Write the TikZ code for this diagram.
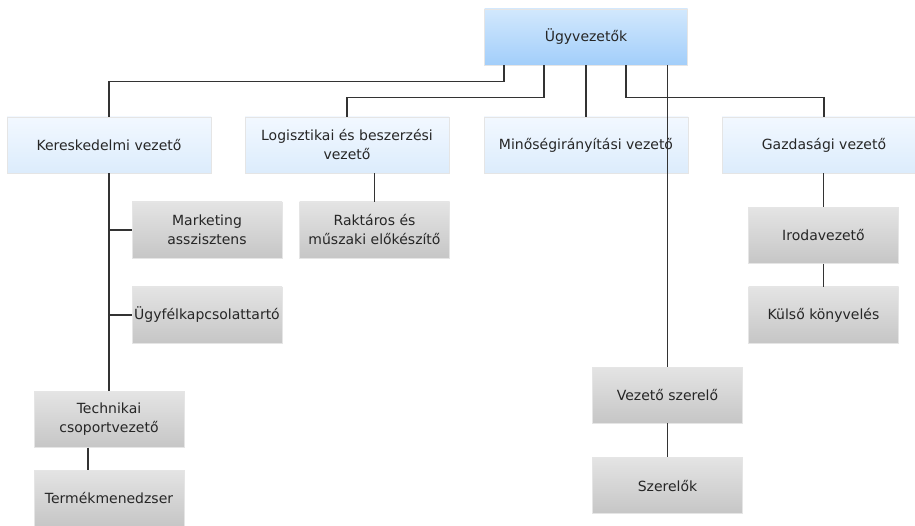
\documentclass[tikz,border=0pt]{standalone}
\usepackage{fontspec}
\setmainfont{DejaVu Sans}
\usetikzlibrary{calc}
\definecolor{toplight}{HTML}{D2E8FD}
\definecolor{topdark}{HTML}{A2CEFA}
\definecolor{midlight}{HTML}{F2F8FF}
\definecolor{middark}{HTML}{DCECFC}
\definecolor{graylight}{HTML}{E4E4E4}
\definecolor{graydark}{HTML}{C6C6C6}
\begin{document}
\begin{tikzpicture}[x=1pt,y=-1pt,
  box/.style={minimum width=150pt,minimum height=56pt,inner sep=0pt,align=center,
    draw=black!10,text=black!85,font=\fontsize{14}{19}\selectfont},
  chief/.style={box,minimum width=203pt,top color=toplight,middle color=topdark,bottom color=topdark},
  head/.style={box,minimum width=204pt,top color=midlight,middle color=middark,bottom color=middark},
  staff/.style={box,top color=graylight,middle color=graydark,bottom color=graydark},
  conn/.style={draw=black!80,line width=1.3pt}]
 	\useasboundingbox (0,0) rectangle (915,526);
 	\clip (0,0) rectangle (915,526);
 	\node[chief] (ugy) at (586,37) {Ügyvezetők};
 	\node[head] (ker) at (109,145) {Kereskedelmi vezető};
 	\node[head] (log) at (347,145) {Logisztikai és beszerzési\\vezető};
 	\node[head] (min) at (586,145) {Minőségirányítási vezető};
 	\node[head] (gaz) at (824,145) {Gazdasági vezető};
 	\node[staff] (mark) at (207,230) {Marketing\\asszisztens};
 	\node[staff] (ugyf) at (207,315) {Ügyfélkapcsolattartó};
 	\node[staff] (rakt) at (374.5,230) {Raktáros és\\műszaki előkészítő};
 	\node[staff] (tech) at (109,419.5) {Technikai\\csoportvezető};
 	\node[staff] (term) at (109,498) {Termékmenedzser};
 	\node[staff] (iroda) at (823.5,235.5) {Irodavezető};
 	\node[staff] (kulso) at (823.5,315) {Külső könyvelés};
 	\node[staff] (vsz) at (667.5,395) {Vezető szerelő};
 	\node[staff] (szer) at (667.5,485.5) {Szerelők};
 	\draw[conn] ([xshift=-82pt]ugy.south) -- ++(0,16) -| (ker.north);
 	\draw[conn] ([xshift=-42pt]ugy.south) -- ++(0,32) -| (log.north);
 	\draw[conn] (ugy.south) -- (min.north);
 	\draw[conn] ([xshift=40pt]ugy.south) -- ++(0,32) -| (gaz.north);
 	\draw[conn] (ugy.south -| vsz.north) -- (vsz.north);
 	\draw[conn] (ker.south) -- (tech.north);
 	\draw[conn] (ker.south |- mark.west) -- (mark.west);
 	\draw[conn] (ker.south |- ugyf.west) -- (ugyf.west);
 	\draw[conn] (log.south -| rakt.north) -- (rakt.north);
 	\draw[conn] (gaz.south -| iroda.north) -- (iroda.north);
 	\draw[conn] (iroda.south) -- (kulso.north);
 	\draw[conn] (vsz.south) -- (szer.north);
 	\draw[conn] ([xshift=-21pt]tech.south) -- ([xshift=-21pt]term.north);
\end{tikzpicture}
\end{document}
